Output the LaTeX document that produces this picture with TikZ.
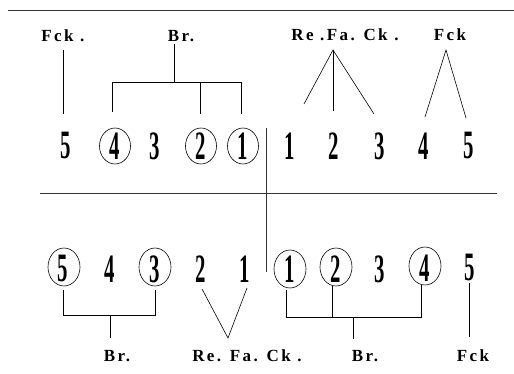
\documentclass[tikz,border=0pt]{standalone}
\usepackage{fontspec}
\usepackage{graphicx}
\setmainfont{Liberation Serif}
\newfontfamily\labfont[LetterSpace=14]{Liberation Serif}
\newcommand\tallnum[1]{\scalebox{0.8}[1.55]{\fontsize{26}{26}\selectfont\bfseries #1}}
\begin{document}
\begin{tikzpicture}[x=1pt,y=-1pt,line width=0.6pt,
  num/.style={inner sep=0pt},
  ring/.style={draw,ellipse,minimum width=31pt,minimum height=36pt,inner sep=0pt,line width=0.6pt},
  lab/.style={inner sep=0pt,font=\labfont\bfseries\fontsize{17}{17}\selectfont},
  rule/.style={line width=0.7pt,draw=black!80}]
\useasboundingbox (0,0) rectangle (514,374);
\usetikzlibrary{shapes.geometric}

% ruling lines
\coordinate (hl1) at (8,10);   \coordinate (hr1) at (514,10);
\coordinate (hl2) at (40,193); \coordinate (hr2) at (497,193);
\coordinate (vt) at (266,128); \coordinate (vb) at (266,272);
\draw[rule] (hl1) -- (hr1);
\draw[rule] (hl2) -- (hr2);
\draw[rule] (vt) -- (vb);

% ---------- upper row ----------
\node[num] (t5) at (66,146) {\tallnum{5}};
\node[num] (t4) at (115,146) {\tallnum{4}};
\node[num] (t3) at (155,146) {\tallnum{3}};
\node[num] (t2) at (201,146) {\tallnum{2}};
\node[num] (t1) at (243,146) {\tallnum{1}};
\node[num] (u1) at (290,146) {\tallnum{1}};
\node[num] (u2) at (334,146) {\tallnum{2}};
\node[num] (u3) at (380,146) {\tallnum{3}};
\node[num] (u4) at (424,146) {\tallnum{4}};
\node[num] (u5) at (469,146) {\tallnum{5}};
\node[ring] (t4r) at (t4) {};
\node[ring] (t2r) at (t2) {};
\node[ring] (t1r) at (t1) {};

\node[lab] (fckA) at (63,36) {Fck .};
\node[lab] (brA)  at (181,36) {Br.};
\node[lab] (rfcA) at (345,35) {Re .Fa. Ck .};
\node[lab] (fckB) at (450,35) {Fck};

% Fck. to 5
\coordinate (fa1) at (63,50); \coordinate (fa2) at (63,114);
\draw (fa1) -- (fa2);
% Br. bracket over 4, 2, 1
\coordinate (ba0) at (174,44); \coordinate (ba1) at (174,82);
\coordinate (bl) at (112,82);  \coordinate (bm) at (200,82); \coordinate (br) at (241,82);
\coordinate (bld) at (112,112); \coordinate (bmd) at (200,114); \coordinate (brd) at (241,114);
\draw (ba0) -- (ba1);
\draw (bld) -- (bl) -- (br) -- (brd);
\draw (bm) -- (bmd);
% Re.Fa.Ck. fan over 1, 2, 3
\coordinate (ra) at (333,50);
\coordinate (r1) at (304,104); \coordinate (r2) at (333,111); \coordinate (r3) at (374,114);
\draw (r1) -- (ra) -- (r3);
\draw (ra) -- (r2);
% Fck fan over 4, 5
\coordinate (fb) at (446,50);
\coordinate (f4) at (425,117); \coordinate (f5) at (466,118);
\draw (f4) -- (fb) -- (f5);

% ---------- lower row ----------
\node[num] (b5) at (63,269) {\tallnum{5}};
\node[num] (b4) at (110,269) {\tallnum{4}};
\node[num] (b3) at (155,269) {\tallnum{3}};
\node[num] (b2) at (201,269) {\tallnum{2}};
\node[num] (b1) at (245,269) {\tallnum{1}};
\node[num] (c1) at (290,269) {\tallnum{1}};
\node[num] (c2) at (336,269) {\tallnum{2}};
\node[num] (c3) at (380,269) {\tallnum{3}};
\node[num] (c4) at (425,268) {\tallnum{4}};
\node[num] (c5) at (470,268) {\tallnum{5}};
\node[ring,minimum width=32pt,minimum height=38pt] (b5r) at (64,267) {};
\node[ring,minimum width=32pt,minimum height=38pt] (b3r) at (155,267) {};
\node[ring,minimum width=32pt,minimum height=38pt] (c1r) at (290,269) {};
\node[ring,minimum width=32pt,minimum height=38pt] (c2r) at (336,267) {};
\node[ring,minimum width=32pt,minimum height=38pt] (c4r) at (425,266) {};

\node[lab] (brB)  at (117,356) {Br.};
\node[lab] (rfcB) at (247,356) {Re. Fa. Ck .};
\node[lab] (brC)  at (365,356) {Br.};
\node[lab] (fckC) at (473,356) {Fck};

% Br. bracket under 5, 3
\coordinate (p5) at (63,290); \coordinate (q5) at (63,315);
\coordinate (p3) at (155,290); \coordinate (q3) at (155,315);
\coordinate (s1) at (110,315); \coordinate (s2) at (110,338);
\draw (p5) -- (q5) -- (q3) -- (p3);
\draw (s1) -- (s2);
% Re.Fa.Ck. vee under 2, 1
\coordinate (v2) at (202,289); \coordinate (va) at (228,338); \coordinate (v1) at (247,288);
\draw (v2) -- (va) -- (v1);
% Br. bracket under 1, 2, 4
\coordinate (p1) at (286,290); \coordinate (q1) at (286,317);
\coordinate (p2) at (332,286); \coordinate (q2) at (332,317);
\coordinate (p4) at (421,285); \coordinate (q4) at (421,317);
\coordinate (s3) at (353,317); \coordinate (s4) at (353,339);
\draw (p1) -- (q1) -- (q4) -- (p4);
\draw (p2) -- (q2);
\draw (s3) -- (s4);
% Fck under 5
\coordinate (g1) at (469,283); \coordinate (g2) at (469,337);
\draw (g1) -- (g2);
\end{tikzpicture}
\end{document}
